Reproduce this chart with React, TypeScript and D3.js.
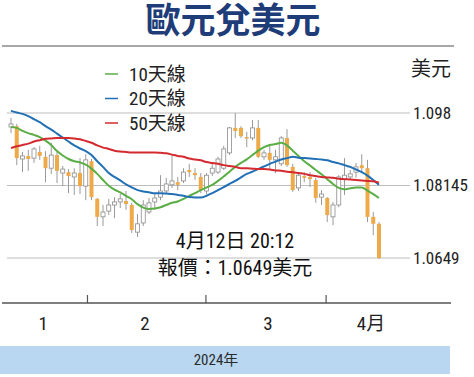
import React from 'react';
import * as d3 from 'd3';

// Daily EUR/USD candles (mid Jan – 12 Apr 2024)
const opens = [1.0948,1.0950,1.0875,1.0882,1.0877,1.0891,1.0880,1.0854,1.0884,1.0843,1.0845,1.0834,1.0843,1.0813,1.0870,1.0784,1.0743,1.0756,1.0770,1.0777,1.0779,1.0770,1.0708,1.0729,1.0754,1.0777,1.0788,1.0802,1.0816,1.0822,1.0825,1.0850,1.0843,1.0834,1.0802,1.0843,1.0845,1.0854,1.0889,1.0946,1.0946,1.0925,1.0923,1.0946,1.0880,1.0889,1.0873,1.0864,1.0923,1.0857,1.0809,1.0836,1.0834,1.0827,1.0788,1.0786,1.0743,1.0770,1.0829,1.0834,1.0845,1.0861,1.0854,1.0743,1.0727];
const highs = [1.0969,1.0955,1.0891,1.0896,1.0902,1.0905,1.0893,1.0912,1.0891,1.0859,1.0852,1.0854,1.0877,1.0886,1.0875,1.0786,1.0770,1.0784,1.0788,1.0795,1.0802,1.0775,1.0749,1.0781,1.0786,1.0795,1.0838,1.0832,1.0884,1.0834,1.0854,1.0864,1.0854,1.0843,1.0843,1.0864,1.0880,1.0905,1.0948,1.0980,1.0950,1.0937,1.0964,1.0964,1.0896,1.0907,1.0896,1.0927,1.0943,1.0864,1.0845,1.0845,1.0845,1.0832,1.0804,1.0788,1.0777,1.0838,1.0877,1.0850,1.0866,1.0886,1.0873,1.0754,1.0731];
const lows = [1.0934,1.0861,1.0845,1.0848,1.0866,1.0873,1.0822,1.0841,1.0820,1.0813,1.0797,1.0793,1.0795,1.0781,1.0781,1.0722,1.0722,1.0747,1.0740,1.0763,1.0759,1.0706,1.0697,1.0722,1.0749,1.0759,1.0781,1.0797,1.0809,1.0804,1.0820,1.0834,1.0827,1.0797,1.0795,1.0836,1.0841,1.0850,1.0884,1.0923,1.0923,1.0902,1.0918,1.0877,1.0873,1.0850,1.0843,1.0859,1.0857,1.0800,1.0802,1.0822,1.0811,1.0775,1.0770,1.0731,1.0724,1.0765,1.0793,1.0827,1.0832,1.0845,1.0731,1.0701,1.0647];
const closes = [1.0955,1.0877,1.0882,1.0875,1.0898,1.0882,1.0854,1.0884,1.0848,1.0852,1.0836,1.0843,1.0813,1.0873,1.0788,1.0743,1.0754,1.0770,1.0777,1.0784,1.0772,1.0713,1.0727,1.0770,1.0775,1.0786,1.0802,1.0818,1.0825,1.0816,1.0845,1.0845,1.0838,1.0804,1.0838,1.0854,1.0875,1.0898,1.0946,1.0939,1.0927,1.0923,1.0946,1.0880,1.0889,1.0873,1.0880,1.0923,1.0861,1.0804,1.0838,1.0832,1.0829,1.0786,1.0795,1.0747,1.0770,1.0834,1.0838,1.0841,1.0857,1.0854,1.0743,1.0727,1.0649];

// Moving averages
const ma10 = [1.0948,1.0946,1.0939,1.0934,1.0930,1.0925,1.0917,1.0907,1.0893,1.0883,1.0875,1.0870,1.0867,1.0862,1.0853,1.0841,1.0827,1.0814,1.0805,1.0799,1.0791,1.0783,1.0772,1.0764,1.0761,1.0762,1.0765,1.0770,1.0775,1.0778,1.0784,1.0791,1.0797,1.0804,1.0810,1.0816,1.0825,1.0835,1.0846,1.0857,1.0866,1.0874,1.0884,1.0894,1.0902,1.0907,1.0909,1.0912,1.0906,1.0894,1.0882,1.0870,1.0860,1.0850,1.0840,1.0829,1.0818,1.0809,1.0806,1.0808,1.0810,1.0810,1.0803,1.0795,1.0786];
const ma20 = [1.0985,1.0981,1.0978,1.0973,1.0966,1.0959,1.0950,1.0942,1.0933,1.0924,1.0915,1.0906,1.0899,1.0893,1.0884,1.0870,1.0857,1.0843,1.0834,1.0826,1.0817,1.0810,1.0804,1.0801,1.0799,1.0797,1.0797,1.0796,1.0795,1.0793,1.0791,1.0788,1.0787,1.0787,1.0791,1.0797,1.0804,1.0811,1.0818,1.0825,1.0833,1.0841,1.0846,1.0852,1.0858,1.0864,1.0869,1.0874,1.0877,1.0880,1.0878,1.0877,1.0876,1.0875,1.0874,1.0872,1.0868,1.0865,1.0861,1.0857,1.0851,1.0845,1.0837,1.0827,1.0816];
const ma50 = [1.0900,1.0904,1.0907,1.0910,1.0915,1.0918,1.0921,1.0922,1.0923,1.0923,1.0923,1.0922,1.0920,1.0916,1.0912,1.0906,1.0901,1.0898,1.0894,1.0892,1.0891,1.0890,1.0890,1.0890,1.0890,1.0890,1.0889,1.0888,1.0885,1.0882,1.0880,1.0876,1.0874,1.0872,1.0868,1.0866,1.0864,1.0861,1.0859,1.0857,1.0854,1.0854,1.0853,1.0852,1.0852,1.0851,1.0849,1.0848,1.0846,1.0845,1.0843,1.0841,1.0838,1.0836,1.0834,1.0833,1.0832,1.0830,1.0829,1.0828,1.0827,1.0826,1.0825,1.0824,1.0821];

const yTicks = [1.098, 1.08145, 1.0649];
const yTickLabels = ['1.098', '1.08145', '1.0649'];
const monthBoundaries = [13.3, 33.9, 54.8];
const monthLabels = ['1', '2', '3', '4月'];
const monthLabelPos = [5.6, 23.3, 44.7, 62.6];
const legendNames = ['10天線', '20天線', '50天線'];

const W = 474, H = 377;
const NUM = "'Liberation Sans Narrow', 'Roboto Condensed', 'Noto Sans CJK TC', sans-serif";
const CJK = "'Noto Sans CJK TC', 'Noto Sans', sans-serif";

export default function App() {
  const n = closes.length;
  const x = d3.scaleLinear().domain([0, n - 1]).range([11, 379]);
  const y = d3.scaleLinear().domain([1.0649, 1.098]).range([258, 113]);
  const line = d3.line<number>().x((_, i) => x(i)).y((d) => y(d)).curve(d3.curveMonotoneX);
  const colors = ['#5aae45', '#2170b6', '#d42a2f'];
  const mas = [ma10, ma20, ma50];
  const bw = 4;

  return (
    <svg width={W} height={H} style={{ position: 'absolute', left: 0, top: 0, background: '#fff' }}>
      <text x={233} y={33} textAnchor="middle" fontFamily={CJK} fontWeight={700} fontSize={35} fill="#1d3c78">歐元兌美元</text>
      <line x1={2} x2={454} y1={46} y2={46} stroke="#8a8a8a" strokeWidth={1.5} />

      {yTicks.map((t, i) => (
        <g key={i}>
          <line x1={7} x2={410} y1={y(t)} y2={y(t)} stroke="#bdbdbd" strokeWidth={1} />
          <text x={413} y={y(t)} dy="0.35em" fontFamily={NUM} fontSize={17} fill="#222">{yTickLabels[i]}</text>
        </g>
      ))}
      <text x={431} y={76} textAnchor="middle" fontFamily={CJK} fontSize={20} fill="#222">美元</text>

      {legendNames.map((name, i) => (
        <g key={name}>
          <line x1={105} x2={118} y1={74 + i * 24.5} y2={74 + i * 24.5} stroke={colors[i]} strokeWidth={1.5} />
          <text x={129} y={74 + i * 24.5} dy="0.35em" fontFamily={NUM} fontSize={19} fill="#222">{name}</text>
        </g>
      ))}

      {closes.map((c, i) => {
        const o = opens[i];
        const up = c >= o;
        const top = y(Math.max(o, c));
        const bot = y(Math.min(o, c));
        return (
          <g key={i}>
            <line x1={x(i)} x2={x(i)} y1={y(highs[i])} y2={y(lows[i])} stroke="#9a9a9a" strokeWidth={1} />
            <rect x={x(i) - bw / 2} y={top} width={bw} height={Math.max(1.5, bot - top)}
              fill={up ? '#ffffff' : '#eeaa48'} stroke={up ? '#8c8c8c' : 'none'} strokeWidth={0.8} />
          </g>
        );
      })}

      {mas.map((m, i) => (
        <path key={i} d={line(m) || ''} fill="none" stroke={colors[i]} strokeWidth={2} />
      ))}

      <text x={235} y={241} dy="0.35em" textAnchor="middle" fontFamily={NUM} fontSize={20} fill="#111">4月12日 20:12</text>
      <text x={235} y={268} dy="0.35em" textAnchor="middle" fontFamily={NUM} fontSize={20} fill="#111">報價：1.0649美元</text>

      <line x1={2} x2={451} y1={303} y2={303} stroke="#555" strokeWidth={1.5} />
      {monthBoundaries.map((b, i) => (
        <line key={i} x1={x(b)} x2={x(b)} y1={295} y2={303} stroke="#555" strokeWidth={1.2} />
      ))}
      {monthLabels.map((m, i) => (
        <text key={m} x={x(monthLabelPos[i])} y={330} textAnchor="middle" fontFamily={NUM} fontSize={19} fill="#222">{m}</text>
      ))}

      <rect x={0} y={346} width={450} height={28} fill="#b9d7f1" />
      <text x={216} y={360} dy="0.35em" textAnchor="middle" fontFamily={NUM} fontSize={15} fill="#2a2a2a">2024年</text>
    </svg>
  );
}
